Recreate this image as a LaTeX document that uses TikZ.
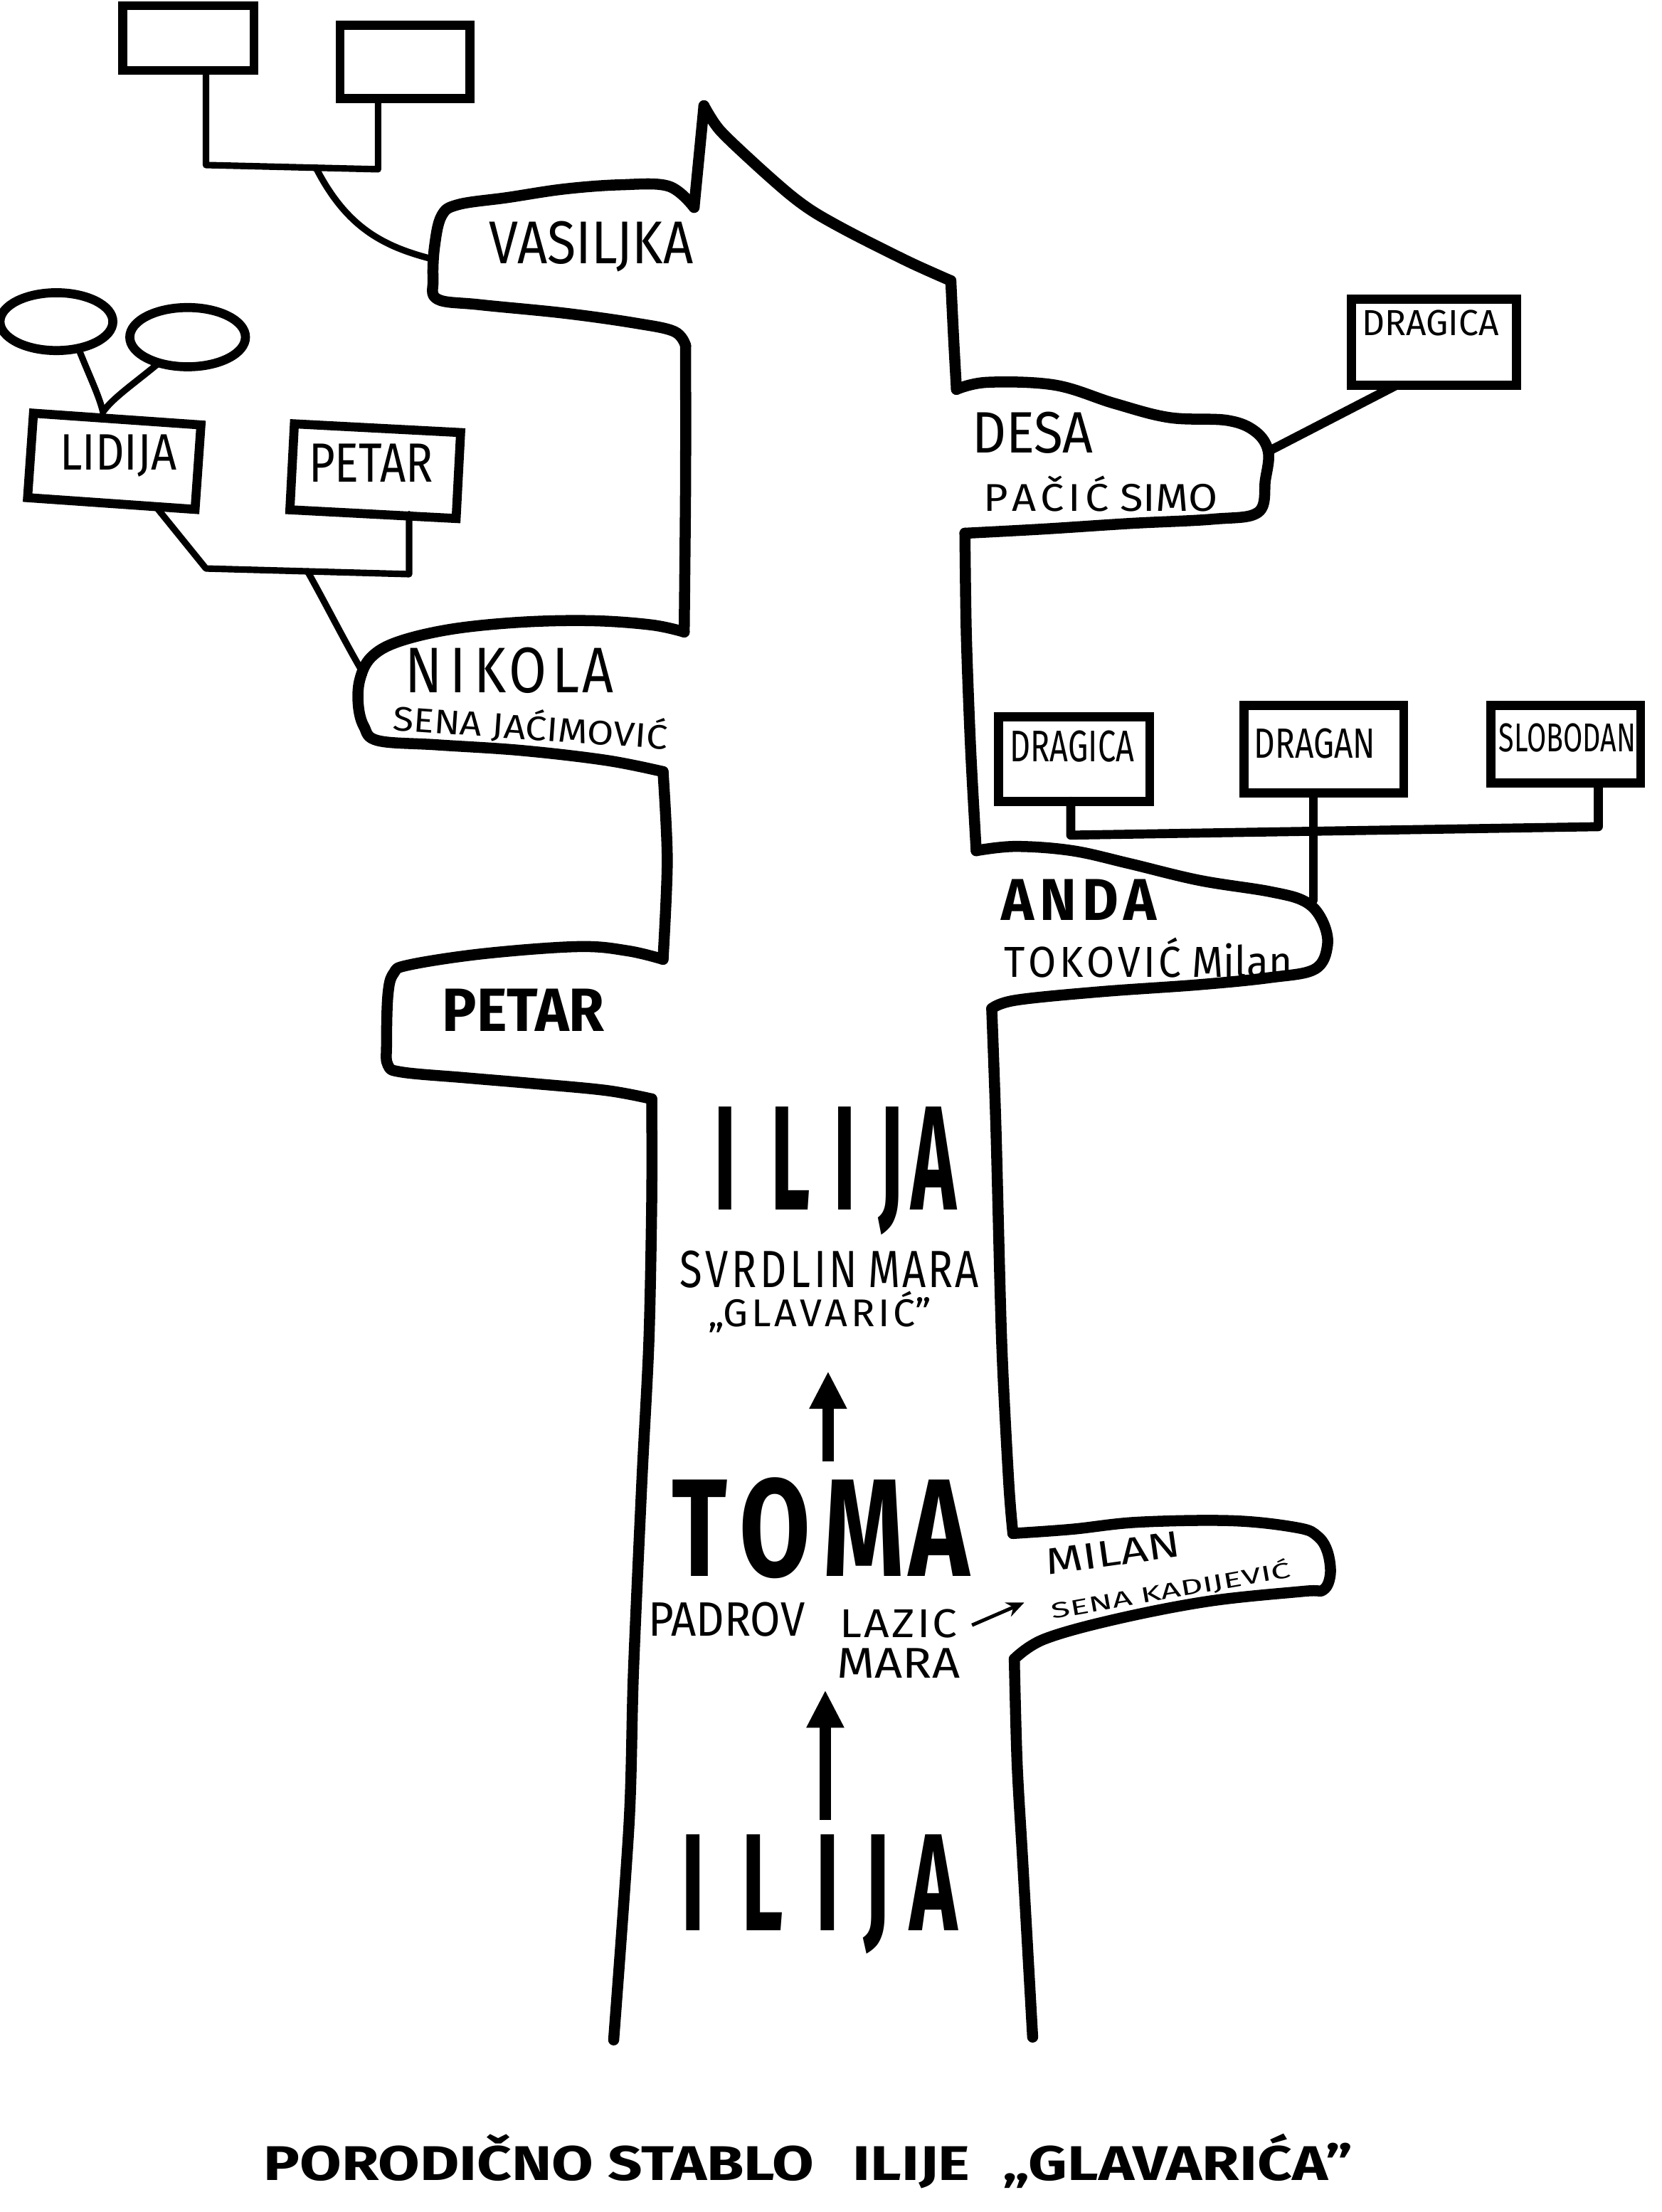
\documentclass[tikz,border=0pt]{standalone}
\usepackage{fontspec}
\setmainfont{Fira Sans}
\usepackage{graphicx}
\usetikzlibrary{arrows.meta,shapes.geometric}
\newlength\pxu
\setlength\pxu{0.5625pt}
\newcommand\fitt[3]{\resizebox{#1\pxu}{#2\pxu}{#3}}
\newcommand\gapk[1]{\kern#1em\relax}
\begin{document}
\begin{tikzpicture}[x=0.5625pt,y=-0.5625pt,
  trunk/.style={line width=4.4pt, line cap=round, line join=round},
  boxn/.style={draw, line width=3.6pt, inner sep=0pt, outer sep=0pt},
  ovaln/.style={draw, ellipse, line width=3.6pt, inner sep=0pt, outer sep=0pt},
  conn/.style={line width=3.6pt, line cap=round, line join=round},
  thinconn/.style={line width=2.6pt, line cap=round, line join=round},
  lbl/.style={inner sep=0pt, outer sep=0pt},
  bigarrow/.style={line width=4.5pt, -{Triangle[length=15pt,width=14pt]}},
  smallarrow/.style={line width=1.4pt, -{Stealth[length=7pt,width=6pt]}}]
\fill[white] (0,0) rectangle (1178,1568);
\useasboundingbox (0,0) rectangle (1178,1568);

% ---------- trunk, left side ----------
\draw[trunk] (499,75) -- (492,147);
\draw[trunk] plot[smooth,tension=0.6] coordinates {(492,147) (474,132) (440,131) (400,134) (360,140) (325,145) (313,153) (308,175) (307,198) (310,212) (340,216) (400,222) (450,229) (478,235) (486,245)};
\draw[trunk] plot[smooth] coordinates {(486,245) (486,340) (485,448)};
\draw[trunk] plot[smooth,tension=0.6] coordinates {(485,448) (462,443) (420,440) (370,441) (320,446) (282,455) (263,466) (255,482) (254,500) (258,515) (268,525) (310,528) (370,532) (430,539) (470,547)};
\draw[trunk] plot[smooth] coordinates {(470,547) (473,610) (470,680)};
\draw[trunk] plot[smooth,tension=0.6] coordinates {(470,680) (445,674) (410,671) (343,676) (290,684) (279,690) (275,705) (274,740) (275,755) (285,760) (330,764) (377,768) (430,773) (462,779)};
\draw[trunk] plot[smooth] coordinates {(462,779) (462,850) (460,950) (455,1050) (449,1186) (446,1291) (435,1446)};

% ---------- trunk, right side ----------
\draw[trunk] plot[smooth,tension=0.5] coordinates {(499,75) (510,92) (535,116) (560,138) (578,151) (605,166) (645,186) (674,199)};
\draw[trunk] plot[smooth] coordinates {(674,199) (676,240) (678,276)};
\draw[trunk] plot[smooth,tension=0.6] coordinates {(678,276) (700,271) (748,273) (790,286) (829,296) (870,298) (890,306) (899,320) (897,340) (892,363) (860,368) (802,371) (740,375) (684,378)};
\draw[trunk] plot[smooth] coordinates {(684,378) (685,450) (688,530) (692,603)};
\draw[trunk] plot[smooth,tension=0.6] coordinates {(692,603) (720,600) (760,603) (800,612) (850,624) (900,632) (925,639) (937,652) (941,670) (932,687) (900,693) (850,698) (780,703) (720,709) (703,715)};
\draw[trunk] plot[smooth] coordinates {(703,715) (706,800) (710,950) (715,1050) (718,1087)};
\draw[trunk] plot[smooth,tension=0.6] coordinates {(718,1087) (760,1084) (807,1079) (874,1078) (920,1083) (934,1089) (941,1100) (943,1116) (938,1127) (924,1128) (857,1135) (790,1148) (740,1162) (719,1176)};
\draw[trunk] plot[smooth] coordinates {(719,1176) (721,1250) (725,1320) (732,1444)};

% ---------- boxes ----------
\node[boxn, minimum width=93\pxu, minimum height=46\pxu] (b1) at (133.5,27) {};
\node[boxn, minimum width=92\pxu, minimum height=52\pxu] (b2) at (287,44) {};
\node[ovaln, minimum width=80\pxu, minimum height=41\pxu] (e1) at (40,228) {};
\node[ovaln, minimum width=82\pxu, minimum height=42\pxu] (e2) at (133,239) {};
\node[boxn, minimum width=119\pxu, minimum height=60\pxu, rotate=-4] (blid) at (81,327) {};
\node[boxn, minimum width=118\pxu, minimum height=61\pxu, rotate=-3] (bpet) at (266,334) {};
\node[boxn, minimum width=117\pxu, minimum height=61\pxu] (bdt) at (1016.5,242.5) {};
\node[boxn, minimum width=107\pxu, minimum height=60\pxu] (bdr) at (761.5,538) {};
\node[boxn, minimum width=113\pxu, minimum height=62\pxu] (bdn) at (938.5,531) {};
\node[boxn, minimum width=106\pxu, minimum height=55\pxu] (bsl) at (1110,527.5) {};

% ---------- connectors ----------
\coordinate (j1) at (146,117);
\coordinate (j2) at (268,120);
\coordinate (j3) at (224,119);
\coordinate (vasl) at (304,183);
\draw[thinconn] (b1.south -| j1) -- (j1) -- (j2) -- (b2.south -| j2);
\draw[thinconn] (j3) .. controls (245,160) and (270,174) .. (vasl);

\coordinate (e1b) at (56,248);
\coordinate (e2b) at (113,257);
\coordinate (lt) at (73,292);
\draw[thinconn] (e1b) .. controls (64,268) and (70,280) .. (lt);
\draw[thinconn] (e2b) .. controls (95,272) and (80,282) .. (lt);

\coordinate (l1) at (112,361);
\coordinate (l2) at (146,403);
\coordinate (l3) at (290,407);
\coordinate (l4) at (218,405);
\coordinate (nikl) at (258,478);
\draw[thinconn] (l1) -- (l2) -- (l3) -- (bpet.south -| l3);
\draw[thinconn] (l4) .. controls (232,430) and (246,458) .. (nikl);

\coordinate (d1) at (899,320);
\coordinate (d2) at (990,273);
\draw[conn] (d1) -- (d2);

\coordinate (k1) at (759,592);
\coordinate (k2) at (1133,586);
\coordinate (k3) at (931,638);
\draw[conn] (bdr.south -| k1) -- (k1) -- (k2) -- (bsl.south -| k2);
\draw[conn] (bdn.south -| k3) -- (k3);

% ---------- labels ----------
\node[lbl] (tvas) at (419,175) {\fitt{145}{30}{VASILJKA}};
\node[lbl] (tnik) at (361,475) {\fitt{148}{32}{N\gapk{.15}I\gapk{.15}K\gapk{.05}O\gapk{.1}L\gapk{.05}A}};
\node[lbl, rotate=-4] (tnik2) at (376,515) {\fitt{195}{22}{SENA JAĆIMOVIĆ}};
\node[lbl] (tpetb) at (371,716) {\fitt{115}{30}{\bfseries PETAR}};
\node[lbl] (tlid) at (84,323) {\fitt{83}{25}{LIDIJA}};
\node[lbl] (tpet) at (263,328) {\fitt{88}{27}{PETAR}};

\node[lbl] (tdt) at (1014,229) {\fitt{97}{18}{DRAGICA}};
\node[lbl] (tdesa) at (732,307) {\fitt{86}{29}{DESA}};
\node[lbl] (tpacic) at (780,350) {\fitt{166}{25}{P\gapk{.1}A\gapk{.1}Č\gapk{.1}I\gapk{.1}Ć SIMO}};
\node[lbl] (tdr) at (760,529) {\fitt{88}{22}{DRAGICA}};
\node[lbl] (tdn) at (932,527) {\fitt{86}{21}{DRAGAN}};
\node[lbl] (tsl) at (1111,523) {\fitt{97}{20}{SLOBODAN}};
\node[lbl] (tanda) at (765,638) {\fitt{110}{29}{\bfseries A\gapk{.1}N\gapk{.1}D\gapk{.1}A}};
\node[lbl] (ttok) at (814,679) {\fitt{204}{28}{T\gapk{.08}O\gapk{.08}K\gapk{.08}O\gapk{.08}V\gapk{.08}I\gapk{.08}Ć Milan}};

\node[lbl, rotate=8] (tmil) at (789,1101) {\fitt{96}{18}{MILAN}};
\node[lbl, rotate=10] (tmil2) at (830,1127) {\fitt{172}{14}{SENA KADIJEVIĆ}};

\node[lbl] (til1) at (592,830) {\fitt{172}{73}{\bfseries I\gapk{.45}L\gapk{.3}I\gapk{.3}J\gapk{.1}A}};
\node[lbl] (tsv) at (588,900) {\fitt{212}{26}{S\gapk{.08}V\gapk{.08}R\gapk{.08}D\gapk{.08}L\gapk{.08}I\gapk{.08}N M\gapk{.05}A\gapk{.05}R\gapk{.05}A}};
\node[lbl] (tgl) at (581,930) {\fitt{158}{25}{„G\gapk{.08}L\gapk{.08}A\gapk{.08}V\gapk{.08}A\gapk{.08}R\gapk{.08}I\gapk{.08}Ć”}};
\node[lbl] (ttoma) at (582,1083) {\fitt{211}{70}{\bfseries T\gapk{.12}O\gapk{.12}M\gapk{.05}A}};
\node[lbl] (tpad) at (515,1148) {\fitt{111}{24}{PADROV}};
\node[lbl] (tlaz) at (637,1151) {\fitt{83}{20}{L\gapk{.05}A\gapk{.05}Z\gapk{.05}I\gapk{.05}C}};
\node[lbl] (tmara) at (637,1179) {\fitt{87}{21}{MARA}};
\node[lbl] (til2) at (581,1343) {\fitt{196}{68}{\bfseries I\gapk{.45}L\gapk{.4}I\gapk{.3}J\gapk{.25}A}};

\node[lbl] (ttitle) at (573,1532) {\fitt{772}{33}{\bfseries PORODIČNO STABLO\gapk{.4} ILIJE\gapk{.3} „GLAVARIĆA”}};

% ---------- arrows ----------
\coordinate (a1s) at (587,1036);
\coordinate (a1e) at (587,972);
\coordinate (a2s) at (585,1290);
\coordinate (a2e) at (585,1198);
\draw[bigarrow] (a1s) -- (a1e);
\draw[bigarrow] (a2s) -- (a2e);
\coordinate (s1) at (689,1152);
\coordinate (s2) at (726,1136);
\draw[smallarrow] (s1) -- (s2);
\end{tikzpicture}
\end{document}
